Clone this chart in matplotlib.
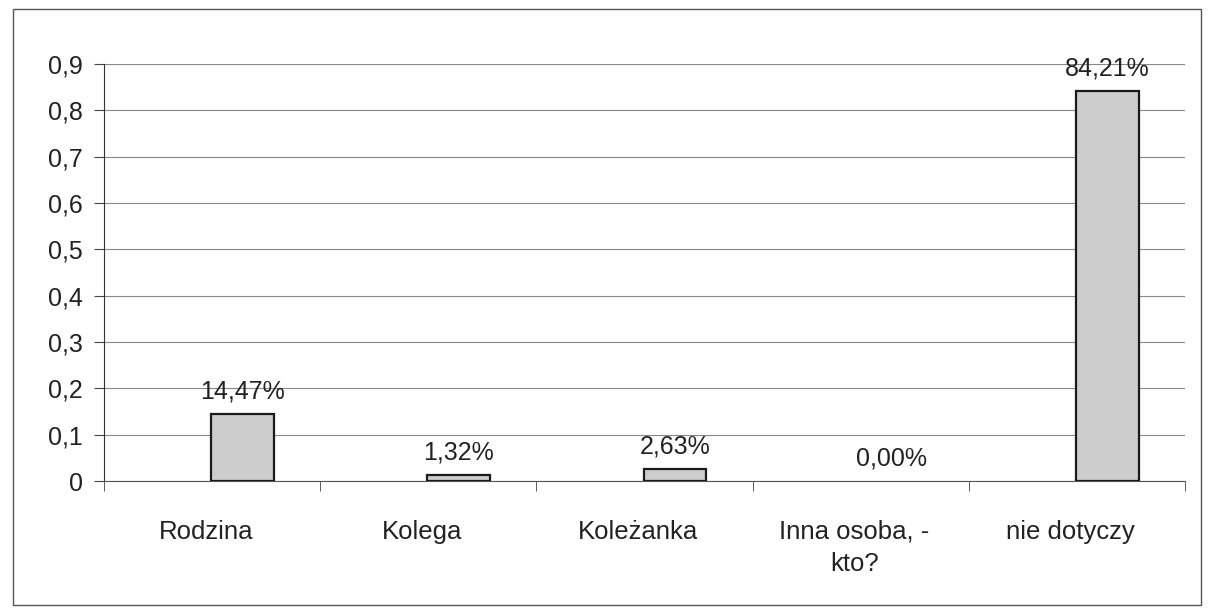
import matplotlib.pyplot as plt
from matplotlib.patches import Rectangle
import numpy as np

categories = ["Rodzina", "Kolega", "Koleżanka", "Inna osoba, -\nkto?", "nie dotyczy"]
values = [0.1447, 0.0132, 0.0263, 0.0, 0.8421]
value_labels = ["14,47%", "1,32%", "2,63%", "0,00%", "84,21%"]
yticks = [0, 0.1, 0.2, 0.3, 0.4, 0.5, 0.6, 0.7, 0.8, 0.9]
ytick_labels = ["0", "0,1", "0,2", "0,3", "0,4", "0,5", "0,6", "0,7", "0,8", "0,9"]

plt.rcParams['font.family'] = ['Liberation Sans', 'DejaVu Sans']

fig = plt.figure(figsize=(12.08, 6.13), dpi=100)
ax = fig.add_axes([0.0861, 0.2153, 0.895, 0.6803])

# outer chart frame
fig.patches.append(Rectangle((0.011, 0.013), 0.983, 0.972, transform=fig.transFigure,
                             fill=False, edgecolor='#555555', linewidth=1.0))

x = np.arange(len(categories))
bars = ax.bar(x + 0.14, values, width=0.29, color='#cdcdcd',
              edgecolor='#1a1a1a', linewidth=1.6, zorder=3)
for b, v in zip(bars, values):
    if v == 0:
        b.set_linewidth(0)

for xi, v, lab in zip(x, values, value_labels):
    ax.annotate(lab, (xi + 0.14, v), xytext=(0, 16), textcoords='offset points',
                ha='center', va='center', fontsize=18, color='#222222')

ax.set_ylim(0, 0.9)
ax.set_xlim(-0.5, len(categories) - 0.5)
ax.set_yticks(yticks)
ax.set_yticklabels(ytick_labels, fontsize=18, color='#222222')
ax.set_xticks(x - 0.03)
ax.set_xticklabels(categories, fontsize=18.5, color='#222222', linespacing=1.45)
ax.set_xticks(np.arange(len(categories) + 1) - 0.5, minor=True)
ax.tick_params(axis='x', which='major', length=0, pad=28)
ax.tick_params(axis='x', which='minor', length=7, direction='out', color='#444444')
ax.tick_params(axis='y', length=7, direction='out', color='#444444', pad=8)

ax.grid(axis='y', color='#888888', linewidth=0.8, zorder=0)
for s in ['top', 'right']:
    ax.spines[s].set_visible(False)
ax.spines['left'].set_color('#333333')
ax.spines['bottom'].set_color('#555555')

plt.savefig("out.png", dpi=100)
